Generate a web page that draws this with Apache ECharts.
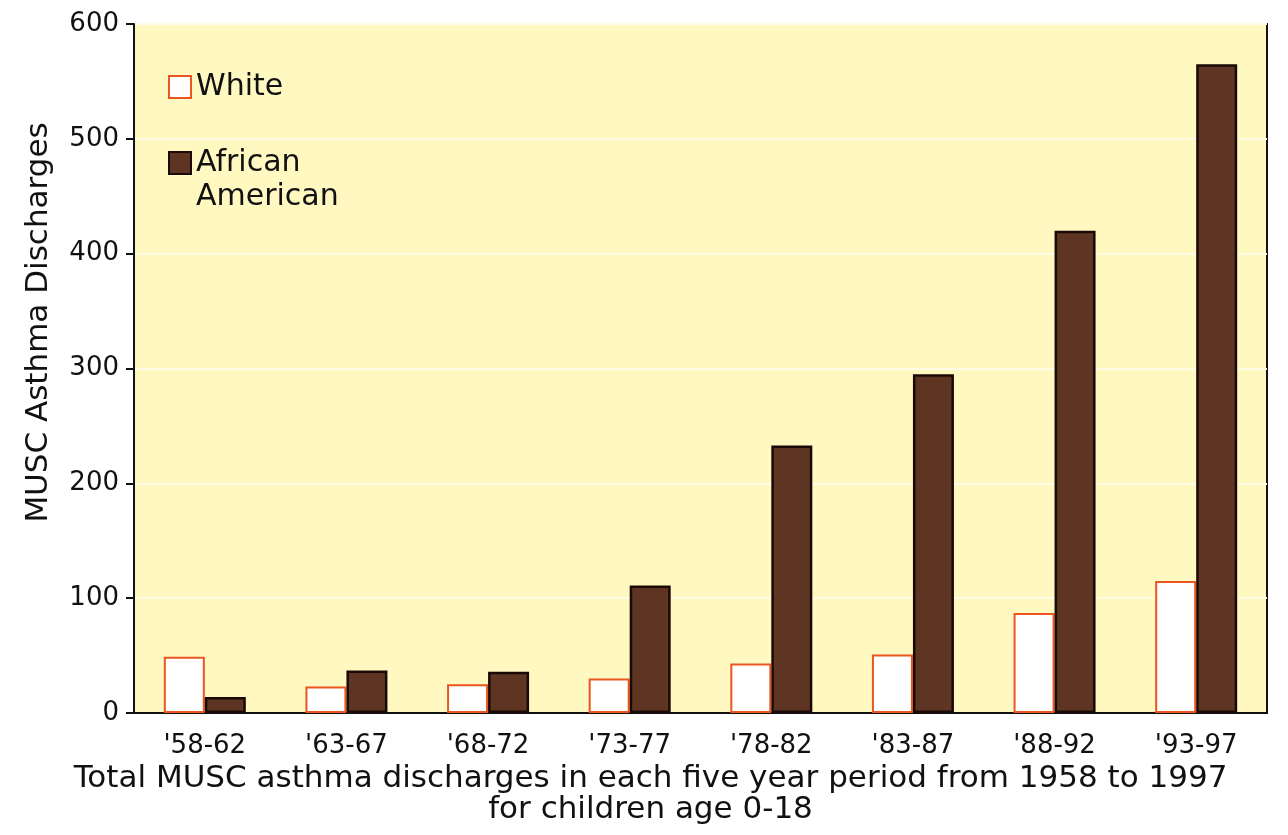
<!DOCTYPE html>
<html>
<head>
<meta charset="utf-8">
<script src="https://cdn.jsdelivr.net/npm/echarts@6/dist/echarts.min.js"></script>
<style>
html,body{margin:0;padding:0;background:#fff;}
#chart{width:1288px;height:835px;}
</style>
</head>
<body>
<div id="chart"></div>
<script>
const categories = ["'58-62", "'63-67", "'68-72", "'73-77", "'78-82", "'83-87", "'88-92", "'93-97"];
const whiteValues = [49, 23, 25, 30, 43, 51, 87, 115];
const africanAmericanValues = [14, 37, 36, 111, 233, 295, 420, 565];
const yTicks = [0, 100, 200, 300, 400, 500, 600];

const font = "'DejaVu Sans', Verdana, sans-serif";
const chart = echarts.init(document.getElementById('chart'), null, {renderer: 'canvas'});
chart.setOption({
  animation: false,
  backgroundColor: '#ffffff',
  grid: {
    left: 134, right: 21, top: 24, bottom: 122,
    outerBoundsMode: 'none',
    containLabel: false,
    show: true,
    backgroundColor: '#fff8c0',
    borderColor: '#111',
    borderWidth: 2
  },
  legend: {
    orient: 'vertical',
    left: 163, top: 65,
    itemWidth: 22, itemHeight: 22,
    itemGap: 8,
    icon: 'rect',
    selectedMode: false,
    textStyle: {fontFamily: font, fontSize: 30, color: '#111', lineHeight: 34},
    formatter: function (n) { return n === 'White' ? n : '\n' + n.replace(' ', '\n'); },
    data: ['White', 'African American']
  },
  xAxis: {
    type: 'category',
    data: categories,
    name: 'Total MUSC asthma discharges in each five year period from 1958 to 1997\nfor children age 0-18',
    nameLocation: 'middle',
    nameGap: 50,
    nameTextStyle: {fontFamily: font, fontSize: 31, color: '#111', lineHeight: 31, padding: [0, 100, 0, 0]},
    axisLine: {lineStyle: {color: '#111', width: 2}},
    axisTick: {show: false},
    axisLabel: {fontFamily: font, fontSize: 26, color: '#111', margin: 20}
  },
  yAxis: {
    type: 'value',
    min: yTicks[0], max: yTicks[yTicks.length - 1], interval: 100,
    name: 'MUSC Asthma Discharges',
    nameLocation: 'middle',
    nameGap: 80,
    nameTextStyle: {fontFamily: font, fontSize: 31, color: '#111', padding: [0, 0, 0, 92]},
    axisLine: {show: true, lineStyle: {color: '#111', width: 2}},
    axisTick: {show: true, length: 8, lineStyle: {color: '#111', width: 2}},
    axisLabel: {fontFamily: font, fontSize: 26, color: '#111', margin: 15},
    splitLine: {show: true, lineStyle: {color: '#fffce6', width: 2}}
  },
  series: [
    {
      name: 'White',
      type: 'bar',
      data: whiteValues,
      barWidth: 41,
      barGap: '0%',
      itemStyle: {color: '#ffffff', borderColor: '#ec5420', borderWidth: 2}
    },
    {
      name: 'African American',
      type: 'bar',
      data: africanAmericanValues,
      barWidth: 41,
      barGap: '0%',
      itemStyle: {color: '#5e3522', borderColor: '#1a0a05', borderWidth: 2.5}
    }
  ]
});
</script>
</body>
</html>
